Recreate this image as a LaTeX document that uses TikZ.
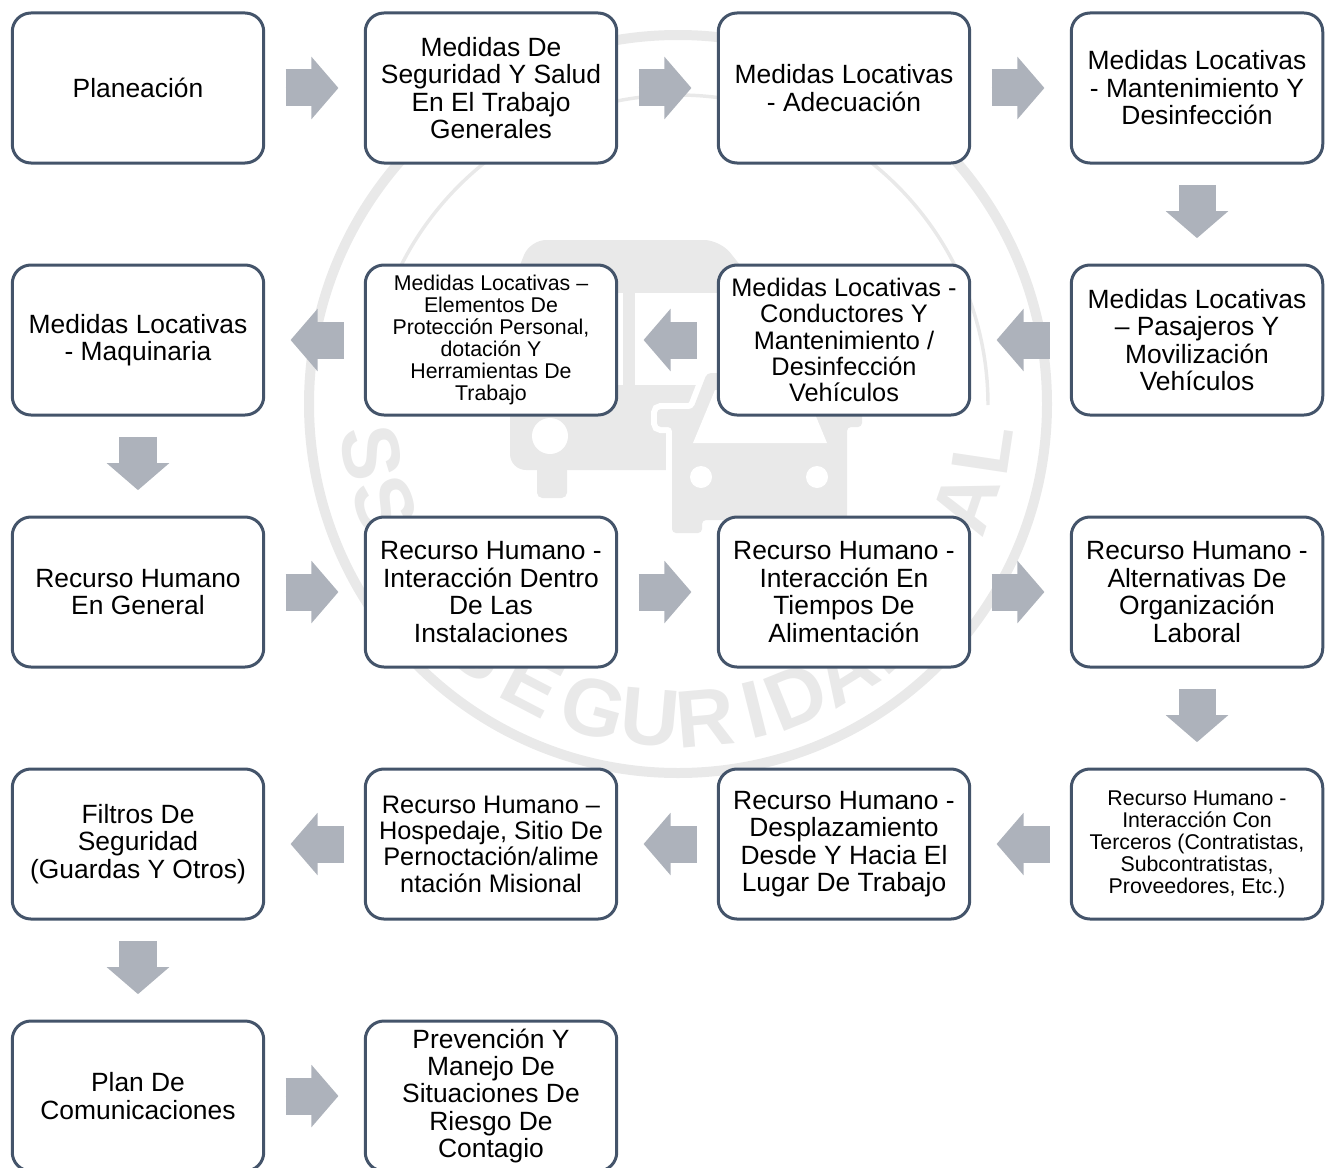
\documentclass[tikz,border=0pt]{standalone}
\usepackage{fontspec}
\setmainfont{Liberation Sans}
\usepackage{tkz-graph}
\usetikzlibrary{arrows.meta}
\definecolor{boxedge}{HTML}{44546A}
\definecolor{blockgray}{HTML}{ADB2BB}
\definecolor{wmgray}{HTML}{E9E9E9}
\begin{document}
\begin{tikzpicture}[x=264.75pt,y=189pt]
\GraphInit[vstyle = Normal]
\tikzset{
  VertexStyle/.append style = { shape=rectangle, rounded corners=14pt, draw=boxedge,
                                line width=2.25pt, fill=white, text=black, inner sep=0pt,
                                minimum width=188.6pt, minimum height=112.5pt, align=center,
                                font=\fontsize{19.8}{20.6}\selectfont},
  EdgeStyle/.append style = {-{Triangle[width=45.75pt,length=20.25pt]}, draw=blockgray,
                             fill=blockgray, line width=27.75pt,
                             shorten <=15.2pt, shorten >=19pt},
  wmletter/.style = {text=wmgray, font=\fontsize{61}{61}\bfseries\selectfont, inner sep=0pt},
}
  \useasboundingbox (-103.5pt,66pt) rectangle ++(995.25pt,-875.25pt);

  % watermark, in pixels from the top left corner
  \begin{scope}[x=.75pt,y=-.75pt,shift={(-103.5pt,66pt)}]
    \draw[wmgray, line width=7.5pt] (678,404) circle [radius=369];
    \draw[wmgray, line width=2.6pt] (988,405) arc [start angle=0, end angle=-180, radius=310];
    \foreach \ang/\ch/\rad in {189/S/310,199/S/310,231/S/315,242.5/E/315,254.5/G/315,265/U/315,
                               275/R/315,284/I/315,292/D/315,302/A/315,312/D/315,341/A/304,351.5/L/308}{
      \path ({678+\rad*cos(\ang)},{404-\rad*sin(\ang)})
        node[wmletter, rotate=\ang-270] (wm\ang) {\ch};
    }
    % bus
    \fill[wmgray, rounded corners=12pt] (510,470) -- (510,290) -- (530,240) -- (720,240)
      -- (760,290) -- (760,470) -- cycle;
    \fill[white] (530,293) rectangle (623,385);
    \fill[white] (635,293) rectangle (725,385);
    \fill[white] (550,436) circle [radius=18];
    \fill[wmgray, rounded corners=4pt] (537,460) rectangle (567,498);
    % car
    \fill[wmgray, rounded corners=3pt, preaction={draw=white, line width=9pt}]
      (672,533) -- (672,427) -- (657,427) -- (657,409) -- (693,409) -- (707,373) -- (812,373)
      -- (826,409) -- (862,409) -- (862,427) -- (847,427) -- (847,533) -- (817,533) -- (817,520)
      -- (702,520) -- (702,533) -- cycle;
    \fill[white] (693,443) -- (827,443) -- (805,390) -- (715,390) -- cycle;
    \fill[white] (701,477) circle [radius=11];
    \fill[white] (817,477) circle [radius=11];
  \end{scope}

  \Vertex[x=0, y=0, L={Planeación}]{Plan}
  \Vertex[x=1, y=0, L={Medidas De\\Seguridad Y Salud\\En El Trabajo\\Generales}]{Generales}
  \Vertex[x=2, y=0, L={Medidas Locativas\\- Adecuación}]{Adecua}
  \Vertex[x=3, y=0, L={Medidas Locativas\\- Mantenimiento Y\\Desinfección}]{Manten}

  \Vertex[x=3, y=-1, L={Medidas Locativas\\– Pasajeros Y\\Movilización\\Vehículos}]{Pasaj}
  \begin{scope}
    \tikzset{VertexStyle/.append style = {font=\fontsize{19}{19.7}\selectfont}}
    \Vertex[x=2, y=-1, L={Medidas Locativas -\\Conductores Y\\Mantenimiento /\\Desinfección\\Vehículos}]{Conduc}
  \end{scope}
  \begin{scope}
    \tikzset{VertexStyle/.append style = {font=\fontsize{16}{16.5}\selectfont}}
    \Vertex[x=1, y=-1, L={Medidas Locativas –\\Elementos De\\Protección Personal,\\dotación Y\\Herramientas De\\Trabajo}]{Elementos}
  \end{scope}
  \Vertex[x=0, y=-1, L={Medidas Locativas\\- Maquinaria}]{Maquina}

  \Vertex[x=0, y=-2, L={Recurso Humano\\En General}]{General}
  \Vertex[x=1, y=-2, L={Recurso Humano -\\Interacción Dentro\\De Las\\Instalaciones}]{Instal}
  \Vertex[x=2, y=-2, L={Recurso Humano -\\Interacción En\\Tiempos De\\Alimentación}]{Aliment}
  \Vertex[x=3, y=-2, L={Recurso Humano -\\Alternativas De\\Organización\\Laboral}]{Organ}

  \begin{scope}
    \tikzset{VertexStyle/.append style = {font=\fontsize{16}{16.5}\selectfont}}
    \Vertex[x=3, y=-3, L={Recurso Humano -\\Interacción Con\\Terceros (Contratistas,\\Subcontratistas,\\Proveedores, Etc.)}]{Terceros}
  \end{scope}
  \Vertex[x=2, y=-3, L={Recurso Humano -\\Desplazamiento\\Desde Y Hacia El\\Lugar De Trabajo}]{Despl}
  \begin{scope}
    \tikzset{VertexStyle/.append style = {font=\fontsize{19}{19.7}\selectfont}}
    \Vertex[x=1, y=-3, L={Recurso Humano –\\Hospedaje, Sitio De\\Pernoctación/alime\\ntación Misional}]{Hosped}
  \end{scope}
  \Vertex[x=0, y=-3, L={Filtros De\\Seguridad\\(Guardas Y Otros)}]{Filtros}

  \Vertex[x=0, y=-4, L={Plan De\\Comunicaciones}]{Comun}
  \Vertex[x=1, y=-4, L={Prevención Y\\Manejo De\\Situaciones De\\Riesgo De\\Contagio}]{Contagio}

  \Edge(Plan)(Generales)
  \Edge(Generales)(Adecua)
  \Edge(Adecua)(Manten)
  \Edge(Manten)(Pasaj)
  \Edge(Pasaj)(Conduc)
  \Edge(Conduc)(Elementos)
  \Edge(Elementos)(Maquina)
  \Edge(Maquina)(General)
  \Edge(General)(Instal)
  \Edge(Instal)(Aliment)
  \Edge(Aliment)(Organ)
  \Edge(Organ)(Terceros)
  \Edge(Terceros)(Despl)
  \Edge(Despl)(Hosped)
  \Edge(Hosped)(Filtros)
  \Edge(Filtros)(Comun)
  \Edge(Comun)(Contagio)

\end{tikzpicture}
\end{document}
